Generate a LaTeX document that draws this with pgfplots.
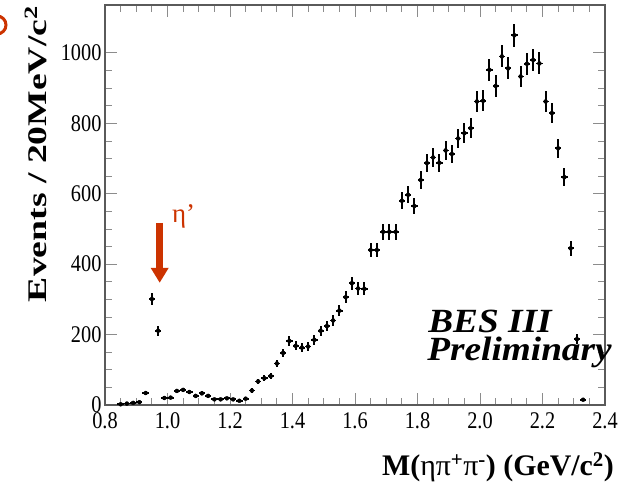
\documentclass[border=0pt]{standalone}
\usepackage{pgfplots}
\pgfplotsset{compat=1.18}
\usepackage{pgfplotstable}
\usepackage{fontspec}
\setmainfont{Liberation Serif}
\newfontfamily\tickfont[FakeStretch=0.85]{Liberation Serif}
\newfontfamily\ylabfont[FakeStretch=1.4]{Liberation Serif}
\newfontfamily\besfont[FakeStretch=1.1]{Liberation Serif}
\usetikzlibrary{arrows.meta}
\definecolor{etacol}{RGB}{204,51,0}
\definecolor{framecol}{RGB}{90,90,90}
\definecolor{tickcol}{RGB}{140,140,140}

\pgfplotstableread{
x y ex ey
0.85 2 0.01 1.4
0.87 4 0.01 2.0
0.89 6 0.01 2.4
0.91 8 0.01 2.8
0.93 34 0.01 5.8
0.95 301 0.01 17.3
0.97 211 0.01 14.5
0.99 20 0.01 4.5
1.01 21 0.01 4.6
1.03 40 0.01 6.3
1.05 43 0.01 6.6
1.07 37 0.01 6.1
1.09 26 0.01 5.1
1.11 33 0.01 5.7
1.13 26 0.01 5.1
1.15 16 0.01 4.0
1.17 16 0.01 4.0
1.19 19 0.01 4.4
1.21 16 0.01 4.0
1.23 12 0.01 3.5
1.25 18 0.01 4.2
1.27 41 0.01 6.4
1.29 67 0.01 8.2
1.31 76 0.01 8.7
1.33 82 0.01 9.1
1.35 118 0.01 10.9
1.37 148 0.01 12.2
1.39 182 0.01 13.5
1.41 168 0.01 13.0
1.43 163 0.01 12.8
1.45 166 0.01 12.9
1.47 185 0.01 13.6
1.49 211 0.01 14.5
1.51 224 0.01 15.0
1.53 240 0.01 15.5
1.55 268 0.01 16.4
1.57 306 0.01 17.5
1.59 346 0.01 18.6
1.61 331 0.01 18.2
1.63 330 0.01 18.2
1.65 440 0.01 21.0
1.67 440 0.01 21.0
1.69 492 0.01 22.2
1.71 492 0.01 22.2
1.73 492 0.01 22.2
1.75 580 0.01 24.1
1.77 597 0.01 24.4
1.79 565 0.01 23.8
1.81 639 0.01 25.3
1.83 687 0.01 26.2
1.85 703 0.01 26.5
1.87 688 0.01 26.2
1.89 723 0.01 26.9
1.91 713 0.01 26.7
1.93 757 0.01 27.5
1.95 772 0.01 27.8
1.97 786 0.01 28.0
1.99 862 0.01 29.4
2.01 864 0.01 29.4
2.03 952 0.01 30.9
2.05 906 0.01 30.1
2.07 990 0.01 31.5
2.09 956 0.01 30.9
2.11 1050 0.01 32.4
2.13 933 0.01 30.5
2.15 969 0.01 31.1
2.17 980 0.01 31.3
2.19 970 0.01 31.1
2.21 862 0.01 29.4
2.23 829 0.01 28.8
2.25 729 0.01 27.0
2.27 647 0.01 25.4
2.29 445 0.01 21.1
2.31 187 0.01 13.7
2.33 15 0.01 3.9
}\datatable

\begin{document}
\begin{tikzpicture}
\useasboundingbox (-105bp,-88bp) rectangle (526bp,405bp);
\begin{axis}[
  scale only axis, width=500bp, height=400bp,
  xmin=0.8, xmax=2.4, ymin=0, ymax=1136,
  xtick={0.8,1,1.2,1.4,1.6,1.8,2,2.2,2.4},
  xticklabels={0.8,1.0,1.2,1.4,1.6,1.8,2.0,2.2,2.4},
  ytick={0,200,400,600,800,1000},
  yticklabels={0,200,400,600,800,1000},
  minor x tick num=3, minor y tick num=3,
  tick align=inside, tick pos=both,
  xticklabel pos=lower, yticklabel pos=left,
  major tick length=12bp, minor tick length=7bp,
  every tick/.style={tickcol, line width=0.8bp},
  axis line style={framecol, line width=1.4bp},
  ticklabel style={font=\tickfont\fontsize{24}{24}\selectfont},
  xticklabel style={yshift=-4bp},
  xlabel={M(\textmd{η}\textmd{π}\textsuperscript{+}\textmd{π}\textsuperscript{-}) (GeV/c\textsuperscript{2})},
  xlabel style={at={(axis description cs:0.786,-0.155)}, anchor=center, inner sep=0pt, font=\bfseries\fontsize{30}{30}\selectfont},
  ylabel={Events / 20MeV/c\textsuperscript{2}},
  ylabel style={at={(axis description cs:-0.138,0.6275)}, anchor=center, inner sep=0pt, font=\ylabfont\bfseries\fontsize{27}{27}\selectfont},
  clip=false,
]
\addplot[black, only marks, mark=none,
  error bars/.cd, x dir=both, x explicit, y dir=both, y explicit,
  error mark=none, error bar style={black, line width=1.8bp}]
  table[x=x, y=y, x error=ex, y error=ey] {\datatable};
\draw[etacol, line width=7bp, -{Triangle[width=17bp,length=15bp]}] (axis cs:0.975,517) -- (axis cs:0.975,347);
\node[etacol, anchor=base west, inner sep=0pt, font=\fontsize{27}{27}\selectfont] at (axis cs:1.014,517) {η’};
\node[anchor=base west, inner sep=0pt, font=\besfont\bfseries\itshape\fontsize{34}{34}\selectfont] at (axis cs:1.834,205) {BES III};
\node[anchor=base west, inner sep=0pt, font=\besfont\bfseries\itshape\fontsize{34}{34}\selectfont] at (axis cs:1.831,126) {Preliminary};
\end{axis}
\draw[etacol, line width=3bp] (-108bp,380bp) circle (9bp);
\end{tikzpicture}
\end{document}
